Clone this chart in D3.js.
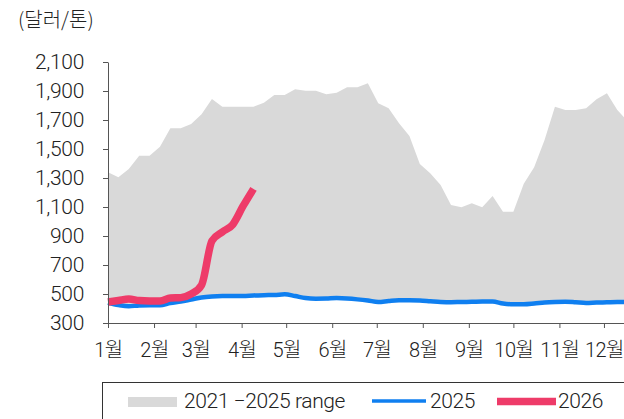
<!DOCTYPE html>
<html>
<head>
<meta charset="utf-8">
<script src="https://cdn.jsdelivr.net/npm/d3@7"></script>
<style>
  html, body { margin: 0; padding: 0; background: #fff; }
  svg { display: block; }
  text { font-family: Roboto, "Noto Sans CJK KR", sans-serif; font-weight: 300; fill: #222; }
  .title { font-family: "Noto Sans CJK KR", sans-serif; }
</style>
</head>
<body>
<svg id="chart" width="624" height="419"></svg>
<script>
// ---- data ----
const monthLabels = ["1월","2월","3월","4월","5월","6월","7월","8월","9월","10월","11월","12월"];
const yTicks = [300, 500, 700, 900, 1100, 1300, 1500, 1700, 1900, 2100];
const unitLabel = "(달러/톤)";
const legendLabels = ["2021 \u22122025 range", "2025", "2026"];

// weekly values (week 1 .. week 52)
const rangeHigh = [1339, 1305, 1362, 1454, 1454, 1516, 1643, 1643, 1672, 1739,
                   1845, 1792, 1792, 1792, 1792, 1819, 1873, 1873, 1912, 1902,
                   1902, 1877, 1888, 1926, 1926, 1953, 1815, 1781, 1677, 1590,
                   1397, 1332, 1252, 1114, 1098, 1126, 1098, 1176, 1068, 1068,
                   1260, 1375, 1562, 1792, 1769, 1769, 1781, 1843, 1884, 1769,
                   1690, 1650];
const series2025 = [440, 424, 415, 421, 422, 422, 438, 448, 462, 476,
                    483, 486, 486, 486, 490, 492, 493, 498, 486, 472,
                    468, 469, 472, 469, 463, 455, 445, 452, 457, 457,
                    455, 450, 445, 443, 445, 446, 448, 448, 434, 429,
                    429, 434, 441, 445, 447, 443, 438, 441, 443, 445,
                    445, 445];
const rangeLow = series2025;
const series2026 = [445, 455, 465, 455, 452, 452, 472, 475, 500, 562,
                    866, 928, 979, 1107, 1225];

// ---- chart ----
const svg = d3.select("#chart");
const yearStart = new Date(2021, 0, 1);
const yearEnd = new Date(2021, 11, 31);
const weekDate = i => d3.timeDay.offset(yearStart, 7 * i);

const x = d3.scaleTime().domain([yearStart, yearEnd]).range([108, 648.5]);
const y = d3.scaleLinear().domain([300, 2100]).range([323, 62]);

// range area
const area = d3.area()
  .x((d, i) => x(weekDate(i)))
  .y0((d, i) => y(rangeLow[i]))
  .y1(d => y(d));
svg.append("path").datum(rangeHigh)
  .attr("d", area)
  .attr("fill", "#d9d9d9");

// 2025 line
const line = d3.line()
  .x((d, i) => x(weekDate(i)))
  .y(d => y(d))
  .curve(d3.curveMonotoneX);
svg.append("path").datum(series2025)
  .attr("d", line)
  .attr("fill", "none")
  .attr("stroke", "#0f7ff0")
  .attr("stroke-width", 4.5);

// 2026 line
svg.append("path").datum(series2026)
  .attr("d", line)
  .attr("fill", "none")
  .attr("stroke", "#ee3b69")
  .attr("stroke-width", 7.5)
  .attr("stroke-linejoin", "round");

// y axis
const yAxis = svg.append("g")
  .attr("transform", "translate(108,0)")
  .call(d3.axisLeft(y).tickValues(yTicks).tickSize(5).tickSizeOuter(0)
        .tickPadding(19).tickFormat(d3.format(",")));
yAxis.selectAll("path, line").attr("stroke", "#555");
yAxis.selectAll("text").attr("font-size", 21).attr("fill", "#222")
  .attr("font-family", null).attr("letter-spacing", -0.3);

// x axis
const monthTicks = d3.timeMonth.range(yearStart, yearEnd);
const xAxis = svg.append("g")
  .attr("transform", "translate(0,323)")
  .call(d3.axisBottom(x).tickValues(monthTicks).tickSize(5).tickSizeOuter(0)
        .tickFormat((d, i) => monthLabels[i]));
xAxis.selectAll("path, line").attr("stroke", "#555");
xAxis.selectAll("text").attr("font-size", 20).attr("fill", "#222")
  .attr("font-family", null).attr("letter-spacing", -0.5)
  .attr("y", 34).attr("dy", 0);

// unit label
svg.append("text").attr("class", "title")
  .attr("x", 18).attr("y", 27)
  .attr("font-size", 20)
  .text(unitLabel);

// legend
const lg = svg.append("g").attr("class", "legend");
lg.append("rect")
  .attr("x", 102.5).attr("y", 382.5).attr("width", 700).attr("height", 100)
  .attr("fill", "none").attr("stroke", "#333").attr("stroke-width", 1);
lg.append("rect").attr("x", 128).attr("y", 397).attr("width", 49).attr("height", 10)
  .attr("fill", "#d9d9d9");
lg.append("text").attr("x", 184).attr("y", 408).attr("font-size", 21)
  .attr("letter-spacing", -0.4).text(legendLabels[0]);
lg.append("line").attr("x1", 372).attr("x2", 426).attr("y1", 401).attr("y2", 401)
  .attr("stroke", "#0f7ff0").attr("stroke-width", 3.5);
lg.append("text").attr("x", 430).attr("y", 408).attr("font-size", 21)
  .attr("letter-spacing", -0.4).text(legendLabels[1]);
lg.append("line").attr("x1", 497).attr("x2", 556).attr("y1", 401.5).attr("y2", 401.5)
  .attr("stroke", "#ee3b69").attr("stroke-width", 7.5);
lg.append("text").attr("x", 558).attr("y", 408).attr("font-size", 21)
  .attr("letter-spacing", -0.4).text(legendLabels[2]);
</script>
</body>
</html>
